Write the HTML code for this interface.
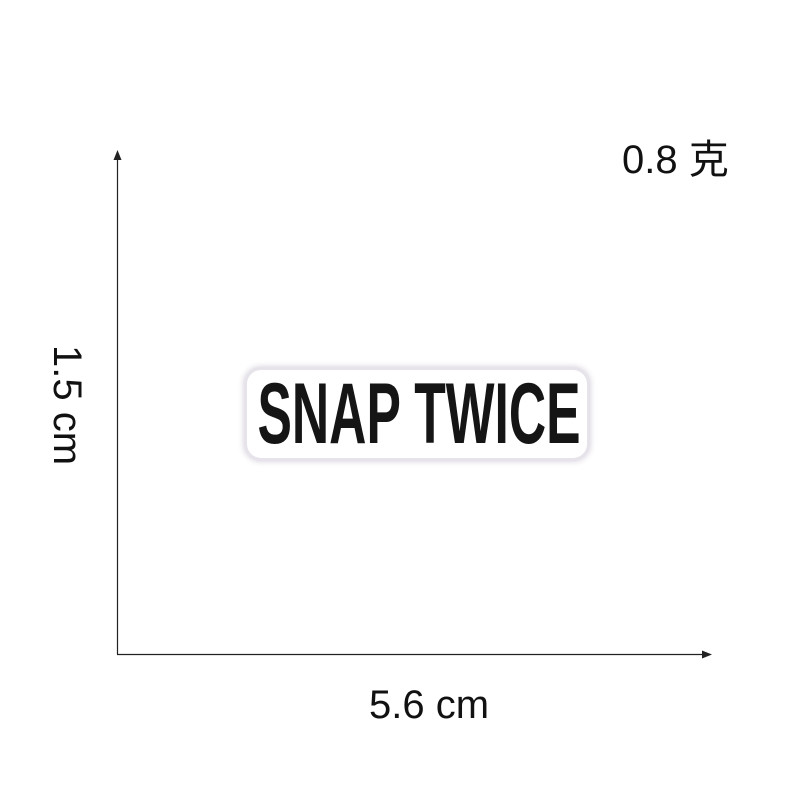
<!DOCTYPE html>
<html><head><meta charset="utf-8"><style>
html,body{margin:0;padding:0;background:#fff;}
#wrap{position:relative;width:800px;height:800px;overflow:hidden;background:#fff;}
.lbl{position:absolute;font-family:"Liberation Sans","Noto Sans CJK SC",sans-serif;font-size:40px;line-height:46px;color:#111;white-space:nowrap;}
#patch{position:absolute;left:247px;top:370px;width:340px;height:88px;background:#fff;border-radius:14px;box-shadow:0 0 0 3px #e6e3ea,0 0 6px 4px #ddd8e0;}
#patch-text{position:absolute;left:172px;top:44px;white-space:nowrap;font-family:"Liberation Sans",sans-serif;font-weight:bold;font-size:86px;line-height:88px;color:#151515;transform:translate(-50%,-50%) scaleX(0.6);}
</style></head><body>
<div id="wrap">
<svg width="800" height="800" style="position:absolute;left:0;top:0">
<line x1="117.5" y1="158" x2="117.5" y2="654.5" stroke="#222" stroke-width="1.2"/>
<polygon points="117.5,150 113.5,160 121.5,160" fill="#222"/>
<line x1="117" y1="654.5" x2="704" y2="654.5" stroke="#222" stroke-width="1.2"/>
<polygon points="712,654.5 702,650.5 702,658.5" fill="#222"/>
</svg>
<div id="patch"><div id="patch-text">SNAP TWICE</div></div>
<div class="lbl" style="left:622px;top:137px;">0.8 克</div>
<div class="lbl" style="left:7px;top:382px;transform:rotate(90deg);transform-origin:50% 50%;width:120px;text-align:center;">1.5 cm</div>
<div class="lbl" style="left:369px;top:682px;">5.6 cm</div>
</div>
</body></html>
